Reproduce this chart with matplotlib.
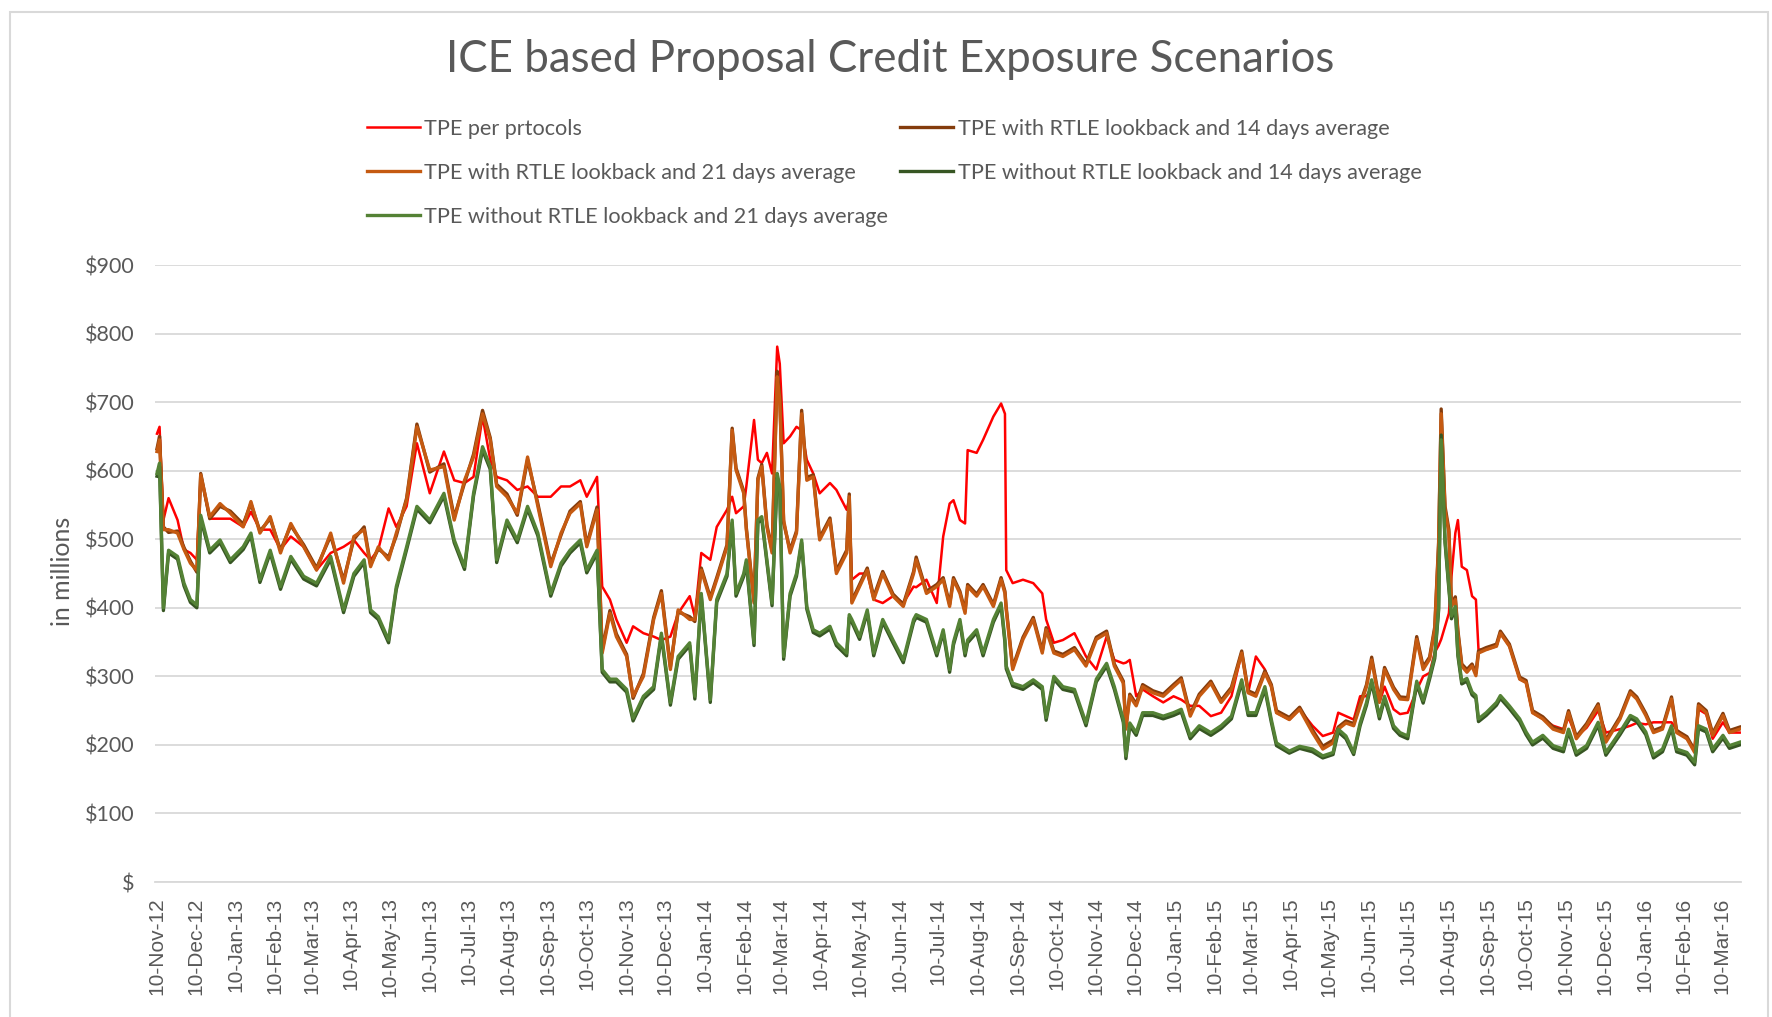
import pandas as pd
import matplotlib
matplotlib.use('Agg')
import matplotlib.pyplot as plt
import matplotlib.dates as mdates
from matplotlib.ticker import FuncFormatter
from matplotlib.patches import Rectangle

START = pd.Timestamp('2012-11-10')

day_offsets = [
    0, 2, 5, 9, 16, 21, 26, 31, 34, 41,
    49, 57, 67, 73, 80, 88, 96, 104, 114, 124,
    135, 145, 153, 161, 166, 172, 180, 186, 194, 202,
    212, 223, 231, 239, 246, 253, 259, 264, 272, 280,
    288, 296, 306, 314, 321, 329, 334, 342, 346, 352,
    357, 365, 370, 378, 386, 392, 399, 405, 414, 418,
    423, 430, 435, 443, 447, 450, 456, 458, 464, 467,
    470, 474, 478, 482, 484, 487, 492, 497, 501, 505,
    510, 515, 523, 528, 536, 538, 540, 546, 552, 557,
    564, 572, 580, 588, 590, 598, 606, 611, 616, 619,
    624, 628, 630, 637, 642, 650, 656, 659, 660, 665,
    673, 681, 688, 691, 697, 704, 713, 722, 730, 738,
    744, 751, 753, 756, 761, 766, 774, 782, 790, 796,
    803, 810, 819, 827, 835, 843, 848, 854, 861, 866,
    870, 880, 888, 898, 906, 914, 918, 924, 930, 935,
    940, 944, 950, 954, 961, 966, 972, 979, 984, 989,
    993, 996, 998, 1001, 1004, 1006, 1009, 1011, 1014, 1018,
    1022, 1025, 1027, 1033, 1041, 1044, 1051, 1059, 1064, 1069,
    1077, 1085, 1093, 1097, 1103, 1111, 1120, 1126, 1137, 1145,
    1150, 1157, 1163, 1170, 1177, 1181, 1189, 1195, 1198, 1204,
    1209, 1217, 1222, 1230,
]

tpe_protocols = [
    654, 664, 528, 560, 528, 485, 480, 470, 594, 530,
    530, 530, 518, 540, 514, 514, 485, 504, 489, 455,
    480, 489, 499, 480, 470, 485, 545, 518, 548, 640,
    567, 628, 586, 582, 591, 679, 616, 591, 586, 572,
    577, 562, 562, 577, 577, 586, 562, 591, 431, 412,
    383, 349, 373, 363, 358, 353, 358, 392, 417, 387,
    480, 470, 518, 543, 562, 538, 548, 577, 674, 616,
    611, 626, 596, 781, 756, 640, 650, 664, 659, 616,
    596, 567, 582, 572, 543, 560, 441, 450, 450, 412,
    407, 417, 407, 431, 430, 441, 407, 504, 552, 557,
    528, 523, 630, 626, 645, 679, 698, 683, 455, 436,
    441, 436, 421, 383, 349, 353, 363, 329, 310, 358,
    324, 319, 320, 324, 271, 281, 271, 262, 271, 266,
    257, 257, 242, 247, 271, 334, 276, 329, 310, 285,
    247, 237, 252, 228, 213, 218, 247, 242, 237, 271,
    271, 285, 262, 285, 252, 245, 247, 280, 300, 305,
    335, 345, 354, 373, 392, 446, 509, 528, 460, 455,
    417, 412, 339, 339, 344, 363, 344, 296, 291, 247,
    238, 228, 223, 240, 212, 225, 250, 218, 223, 228,
    232, 230, 233, 233, 233, 222, 209, 194, 252, 245,
    209, 233, 218, 218,
]

tpe_rtle_14 = [
    632, 650, 518, 510, 512, 488, 468, 452, 596, 530,
    548, 541, 522, 552, 512, 530, 484, 520, 492, 458,
    505, 440, 500, 518, 463, 486, 474, 505, 560, 668,
    598, 610, 532, 582, 624, 688, 648, 580, 566, 535,
    616, 552, 464, 506, 541, 555, 492, 547, 338, 396,
    362, 332, 268, 304, 386, 425, 314, 394, 387, 380,
    458, 415, 444, 492, 662, 604, 570, 517, 410, 589,
    609, 521, 484, 745, 708, 524, 484, 512, 688, 590,
    594, 502, 531, 454, 484, 566, 410, 434, 458, 416,
    453, 420, 405, 453, 474, 424, 434, 444, 405, 444,
    424, 395, 434, 420, 434, 405, 444, 424, 400, 313,
    357, 386, 337, 371, 337, 332, 342, 318, 357, 366,
    318, 293, 226, 274, 260, 288, 279, 274, 288, 298,
    245, 274, 293, 265, 284, 337, 279, 274, 308, 288,
    250, 240, 255, 222, 198, 207, 226, 235, 231, 260,
    288, 328, 265, 313, 284, 270, 269, 358, 314, 328,
    372, 495, 690, 548, 514, 406, 416, 367, 318, 310,
    318, 305, 337, 342, 347, 366, 347, 299, 294, 250,
    241, 226, 221, 250, 212, 231, 260, 207, 241, 279,
    270, 246, 221, 226, 270, 221, 212, 192, 260, 250,
    217, 246, 221, 226,
]

tpe_rtle_21 = [
    628, 645, 514, 514, 509, 485, 465, 455, 594, 533,
    552, 538, 518, 555, 509, 533, 480, 523, 489, 455,
    509, 436, 504, 514, 460, 489, 470, 509, 557, 664,
    601, 606, 528, 586, 620, 683, 645, 577, 562, 538,
    620, 548, 460, 509, 538, 552, 489, 543, 334, 392,
    358, 329, 271, 300, 383, 421, 310, 397, 383, 383,
    455, 412, 441, 489, 659, 601, 567, 514, 407, 586,
    606, 518, 480, 737, 703, 528, 480, 509, 683, 586,
    591, 499, 528, 450, 480, 562, 407, 431, 455, 412,
    450, 417, 402, 450, 470, 421, 431, 441, 402, 441,
    421, 392, 431, 417, 431, 402, 441, 421, 397, 310,
    354, 383, 334, 368, 334, 329, 339, 315, 354, 363,
    315, 290, 223, 271, 257, 285, 276, 271, 285, 295,
    242, 271, 290, 262, 281, 334, 276, 271, 305, 285,
    247, 237, 252, 218, 194, 203, 223, 232, 228, 257,
    285, 324, 262, 310, 281, 267, 266, 354, 310, 325,
    368, 490, 683, 543, 509, 402, 412, 363, 315, 306,
    315, 301, 334, 339, 344, 363, 344, 296, 291, 247,
    238, 223, 218, 247, 209, 228, 257, 204, 238, 276,
    267, 243, 218, 223, 267, 218, 209, 189, 257, 247,
    214, 243, 218, 223,
]

tpe_no_rtle_14 = [
    592, 606, 396, 480, 471, 432, 408, 400, 530, 480,
    495, 466, 485, 505, 437, 480, 427, 471, 442, 432,
    471, 393, 446, 466, 393, 383, 349, 427, 485, 544,
    524, 563, 495, 456, 563, 630, 602, 466, 524, 495,
    544, 505, 417, 461, 480, 495, 451, 480, 306, 292,
    292, 277, 235, 267, 281, 359, 258, 325, 345, 267,
    417, 262, 408, 446, 524, 417, 446, 466, 345, 524,
    529, 466, 403, 590, 572, 325, 417, 446, 495, 398,
    364, 359, 369, 345, 330, 386, 379, 354, 393, 330,
    379, 349, 320, 379, 386, 379, 330, 364, 306, 346,
    379, 330, 349, 364, 330, 379, 403, 349, 311, 286,
    281, 291, 281, 236, 296, 281, 277, 228, 292, 315,
    281, 233, 180, 228, 214, 243, 243, 238, 243, 248,
    209, 224, 214, 224, 238, 291, 243, 243, 281, 233,
    199, 188, 195, 190, 181, 186, 219, 209, 186, 228,
    258, 291, 238, 267, 224, 214, 209, 289, 261, 296,
    326, 396, 652, 495, 427, 384, 398, 330, 289, 293,
    273, 268, 234, 243, 258, 268, 253, 234, 215, 200,
    210, 195, 190, 219, 185, 195, 229, 185, 215, 239,
    234, 215, 181, 190, 224, 190, 185, 171, 224, 219,
    190, 210, 195, 200,
]

tpe_no_rtle_21 = [
    596, 611, 400, 484, 475, 436, 412, 404, 535, 484,
    499, 470, 489, 509, 441, 484, 431, 475, 446, 436,
    475, 397, 450, 470, 397, 387, 353, 431, 489, 548,
    528, 567, 499, 460, 567, 635, 606, 470, 528, 499,
    548, 509, 421, 465, 484, 499, 455, 484, 310, 296,
    296, 281, 239, 271, 285, 363, 262, 329, 349, 271,
    421, 266, 412, 450, 528, 421, 450, 470, 349, 528,
    533, 470, 407, 596, 577, 329, 421, 450, 499, 402,
    368, 363, 373, 349, 334, 390, 383, 358, 397, 334,
    383, 353, 324, 383, 390, 383, 334, 368, 310, 350,
    383, 334, 353, 368, 334, 383, 407, 353, 315, 290,
    285, 295, 285, 240, 300, 285, 281, 232, 296, 319,
    285, 237, 184, 232, 218, 247, 247, 242, 247, 252,
    213, 228, 218, 228, 242, 295, 247, 247, 285, 237,
    203, 191, 198, 194, 184, 189, 223, 213, 189, 232,
    262, 295, 242, 271, 228, 218, 213, 293, 265, 300,
    330, 400, 645, 499, 431, 388, 402, 334, 293, 297,
    277, 272, 238, 247, 262, 272, 257, 238, 219, 204,
    214, 199, 194, 223, 189, 199, 233, 189, 219, 243,
    238, 219, 185, 194, 228, 194, 189, 175, 228, 223,
    194, 214, 199, 204,
]

series_names = [
    'TPE per prtocols',
    'TPE with RTLE lookback and 14 days average',
    'TPE with RTLE lookback and 21 days average',
    'TPE without RTLE lookback and 14 days average',
    'TPE without RTLE lookback and 21 days average',
]
series_colors = ['#FF0000', '#843C0C', '#C55A11', '#375623', '#548235']
series_widths = [1.8, 2.4, 2.4, 2.4, 2.4]

TITLE = 'ICE based Proposal Credit Exposure Scenarios'
GREY = '#595959'


def money(v, pos):
    if v == 0:
        return '$'
    return '${:,.0f}'.format(v)


def __main__():
    plt.rcParams['font.family'] = ['Lato', 'DejaVu Sans']

    dates = START + pd.to_timedelta(day_offsets, unit='D')
    data = pd.DataFrame({
        series_names[0]: tpe_protocols,
        series_names[1]: tpe_rtle_14,
        series_names[2]: tpe_rtle_21,
        series_names[3]: tpe_no_rtle_14,
        series_names[4]: tpe_no_rtle_21,
    }, index=dates)

    fig = plt.figure(figsize=(17.72, 10.17), dpi=100)
    ax = fig.add_axes([0.0875, 0.1327, 0.8950, 0.6067])

    lines = {}
    for name, color, lw in zip(series_names, series_colors, series_widths):
        lines[name], = ax.plot(data.index, data[name], color=color, lw=lw,
                               label=name, solid_joinstyle='round')

    ax.set_ylim(0, 900)
    ax.set_xlim(START - pd.Timedelta(days=1.5), START + pd.Timedelta(days=1231))
    ax.set_yticks(range(0, 1000, 100))
    ax.yaxis.set_major_formatter(FuncFormatter(money))

    ticks = pd.date_range('2012-11-10', '2016-03-10', freq=pd.DateOffset(months=1))
    ax.set_xticks(ticks)
    ax.xaxis.set_major_formatter(mdates.DateFormatter('%d-%b-%y'))

    ax.yaxis.grid(True, color='#D9D9D9', lw=1.3)
    ax.set_axisbelow(True)
    for side in ['top', 'right', 'left']:
        ax.spines[side].set_visible(False)
    ax.spines['bottom'].set_color('#D9D9D9')
    ax.spines['bottom'].set_linewidth(1.3)

    ax.tick_params(axis='y', length=0, pad=15, labelsize=15.5, labelcolor=GREY)
    ax.tick_params(axis='x', length=0, pad=11, labelcolor=GREY)
    for lab in ax.get_xticklabels():
        lab.set_rotation(90)
        lab.set_fontfamily(['Liberation Sans', 'DejaVu Sans'])
        lab.set_fontsize(15)

    fig.text(890 / 1772, 1 - 60 / 1017, TITLE, ha='center', va='center',
             fontsize=31.6, color=GREY)
    fig.text(62 / 1772, 1 - 571 / 1017, 'in millions', rotation=90,
             ha='center', va='center', fontsize=18, color=GREY)

    # legend is filled column by column, so order it to read row by row
    order = [series_names[i] for i in [0, 2, 4, 1, 3]]
    fig.legend([lines[n] for n in order], order, ncol=2, loc='upper left',
               bbox_to_anchor=(367 / 1772, 1 - 119 / 1017), frameon=False,
               fontsize=15.6, labelcolor=GREY, handlelength=2.45,
               handletextpad=0.2, columnspacing=0.55, labelspacing=1.1,
               borderpad=0, borderaxespad=0)

    frame = Rectangle((10 / 1772, -0.02), 1758 / 1772, 1.014 - 6 / 1017,
                      transform=fig.transFigure, fill=False,
                      edgecolor='#D9D9D9', lw=1.5)
    fig.add_artist(frame)

    fig.savefig('out.png', dpi=100)


__main__()
